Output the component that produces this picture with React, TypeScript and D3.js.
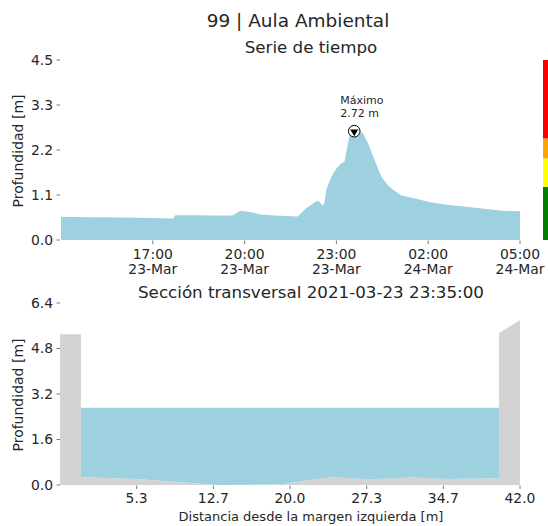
import React from "react";
import * as d3 from "d3";

// serie de tiempo (profundidad en m)
const seriesTimes = [
  "2021-03-23 14:00", "2021-03-23 15:00", "2021-03-23 16:00", "2021-03-23 17:00",
  "2021-03-23 17:40", "2021-03-23 17:44", "2021-03-23 18:30", "2021-03-23 19:00",
  "2021-03-23 19:36", "2021-03-23 19:52", "2021-03-23 20:10", "2021-03-23 20:32",
  "2021-03-23 21:00", "2021-03-23 21:44", "2021-03-23 22:00", "2021-03-23 22:20",
  "2021-03-23 22:25", "2021-03-23 22:32", "2021-03-23 22:36", "2021-03-23 22:40",
  "2021-03-23 22:50", "2021-03-23 23:00", "2021-03-23 23:10", "2021-03-23 23:16",
  "2021-03-23 23:19", "2021-03-23 23:26", "2021-03-23 23:35", "2021-03-23 23:45",
  "2021-03-23 23:52", "2021-03-24 00:02", "2021-03-24 00:15", "2021-03-24 00:28",
  "2021-03-24 00:41", "2021-03-24 00:48", "2021-03-24 01:01", "2021-03-24 01:08",
  "2021-03-24 01:34", "2021-03-24 02:07", "2021-03-24 02:33", "2021-03-24 03:13",
  "2021-03-24 03:59", "2021-03-24 04:25", "2021-03-24 05:00",
];
const seriesDepth = [
  0.58, 0.57, 0.56, 0.55,
  0.54, 0.62, 0.62, 0.61,
  0.61, 0.73, 0.70, 0.64,
  0.61, 0.59, 0.79, 0.96,
  0.98, 0.87, 0.90, 1.25,
  1.58, 1.79, 1.92, 1.96,
  2.17, 2.63, 2.72, 2.71,
  2.67, 2.42, 2.00, 1.58,
  1.37, 1.29, 1.17, 1.11,
  1.04, 0.94, 0.89, 0.83,
  0.77, 0.73, 0.72,
];
const timeTicks = ["2021-03-23 17:00", "2021-03-23 20:00", "2021-03-23 23:00", "2021-03-24 02:00", "2021-03-24 05:00"];
const depthTickLabels = ["0.0", "1.1", "2.2", "3.3", "4.5"];

// niveles de alerta (barra de colores)
const alertLevels = [0, 1.33, 2.04, 2.54, 4.5];
const alertColors = ["#008000", "#ffff00", "#ffa500", "#ff0000"];

// sección transversal
const sectionDist = [-2, 0, 0, 5.3, 10.9, 13, 19, 21, 24, 27.6, 31.8, 35, 40, 40, 42];
const sectionBed = [5.3, 5.3, 0.27, 0.21, 0.06, 0.0, 0.02, 0.12, 0.27, 0.2, 0.26, 0.21, 0.24, 5.34, 5.8];
const sectionDepthTickLabels = ["0.0", "1.6", "3.2", "4.8", "6.4"];
const sectionDistTickLabels = ["5.3", "12.7", "20.0", "27.3", "34.7", "42.0"];

const W = 548;
const H = 526;
const FONT = "DejaVu Sans, sans-serif";
const TXT = "#262626";
const WATER = "#9ed1e0";
const GROUND = "#d3d3d3";

const parse = d3.timeParse("%Y-%m-%d %H:%M");

export default function App() {
  const points = seriesTimes.map((t, i) => ({ t: parse(t) as Date, v: seriesDepth[i] }));
  const x = d3.scaleTime()
    .domain([points[0].t, points[points.length - 1].t])
    .range([61, 520]);
  const y = d3.scaleLinear().domain([0, 4.5]).range([240, 60]);

  const area = d3.area<{ t: Date; v: number }>()
    .x(d => x(d.t))
    .y0(y(0))
    .y1(d => y(d.v));

  const maxPoint = points.reduce((a, b) => (b.v > a.v ? b : a));
  const fmtH = d3.timeFormat("%H:%M");
  const fmtD = d3.timeFormat("%d-%b");

  const yTickVals = depthTickLabels.map((_, i) => (4.5 * i) / (depthTickLabels.length - 1));

  // sección
  const sx = d3.scaleLinear().domain([-2, 42]).range([60, 520]);
  const sy = d3.scaleLinear().domain([0, 6.4]).range([485, 303]);
  const ground = sectionDist.map((d, i) => ({ d, z: sectionBed[i] }));
  const groundArea = d3.area<{ d: number; z: number }>()
    .x(p => sx(p.d))
    .y0(sy(0))
    .y1(p => sy(p.z));
  const waterLevel = maxPoint.v;
  const wet = ground.slice(2, ground.length - 2);
  const waterArea = d3.area<{ d: number; z: number }>()
    .x(p => sx(p.d))
    .y0(p => sy(p.z))
    .y1(sy(waterLevel));
  const syTickVals = sectionDepthTickLabels.map((_, i) => (6.4 * i) / (sectionDepthTickLabels.length - 1));
  const sxTickVals = sectionDistTickLabels.map((_, i) => -2 + ((i + 1) * 44) / 6);

  const tri = d3.symbol().type(d3.symbolTriangle).size(28)();
  const mx = x(maxPoint.t);
  const my = y(maxPoint.v);

  return (
    <svg width={W} height={H} style={{ position: "absolute", left: 0, top: 0 }} fontFamily={FONT}>
      <rect width={W} height={H} fill="#fff" />
      <text x={298} y={26.5} textAnchor="middle" fontSize={18.5} fill={TXT}>99 | Aula Ambiental</text>
      <text x={311} y={53} textAnchor="middle" fontSize={16.7} fill={TXT}>Serie de tiempo</text>

      {/* serie de tiempo */}
      <path d={area(points) || ""} fill={WATER} />
      {yTickVals.map((v, i) => (
        <g key={"yt" + i}>
          <line x1={56.5} x2={60} y1={y(v)} y2={y(v)} stroke="#555" strokeWidth={0.8} />
          <text x={53} y={y(v)} dy="0.35em" textAnchor="end" fontSize={13.9} fill={TXT}>{depthTickLabels[i]}</text>
        </g>
      ))}
      {timeTicks.map(s => {
        const t = parse(s) as Date;
        return (
          <g key={s}>
            <line x1={x(t)} x2={x(t)} y1={240.5} y2={244} stroke="#555" strokeWidth={0.8} />
            <text x={x(t)} y={258.5} textAnchor="middle" fontSize={13.9} fill={TXT}>{fmtH(t)}</text>
            <text x={x(t)} y={274} textAnchor="middle" fontSize={13.9} fill={TXT}>{fmtD(t)}</text>
          </g>
        );
      })}
      <text transform={`translate(22.5,151) rotate(-90)`} textAnchor="middle" fontSize={14} fill={TXT}>Profundidad [m]</text>

      {/* máximo */}
      <circle cx={mx} cy={my} r={5.8} fill="#fff" stroke="#000" strokeWidth={1} />
      <path d={tri || ""} transform={`translate(${mx},${my + 0.5}) rotate(180)`} fill="#000" />
      <text x={mx - 14} y={my - 27} fontSize={11} fill={TXT}>Máximo</text>
      <text x={mx - 14} y={my - 14.5} fontSize={11} fill={TXT}>{maxPoint.v.toFixed(2)} m</text>

      {/* barra de alertas */}
      {alertColors.map((c, i) => (
        <rect key={c} x={543} width={10} y={y(alertLevels[i + 1])} height={y(alertLevels[i]) - y(alertLevels[i + 1])} fill={c} />
      ))}

      {/* sección transversal */}
      <text x={311} y={297.5} textAnchor="middle" fontSize={16.7} fill={TXT}>Sección transversal 2021-03-23 23:35:00</text>
      <path d={groundArea(ground) || ""} fill={GROUND} />
      <path d={waterArea(wet) || ""} fill={WATER} />
      {syTickVals.map((v, i) => (
        <g key={"syt" + i}>
          <line x1={56.5} x2={60} y1={sy(v)} y2={sy(v)} stroke="#555" strokeWidth={0.8} />
          <text x={53} y={sy(v)} dy="0.35em" textAnchor="end" fontSize={13.9} fill={TXT}>{sectionDepthTickLabels[i]}</text>
        </g>
      ))}
      {sxTickVals.map((v, i) => (
        <g key={"sxt" + i}>
          <line x1={sx(v)} x2={sx(v)} y1={485.5} y2={489} stroke="#555" strokeWidth={0.8} />
          <text x={sx(v)} y={503} textAnchor="middle" fontSize={13.9} fill={TXT}>{sectionDistTickLabels[i]}</text>
        </g>
      ))}
      <text transform={`translate(22.5,395) rotate(-90)`} textAnchor="middle" fontSize={14} fill={TXT}>Profundidad [m]</text>
      <text x={311} y={521} textAnchor="middle" fontSize={13} fill={TXT}>Distancia desde la margen izquierda [m]</text>
    </svg>
  );
}
